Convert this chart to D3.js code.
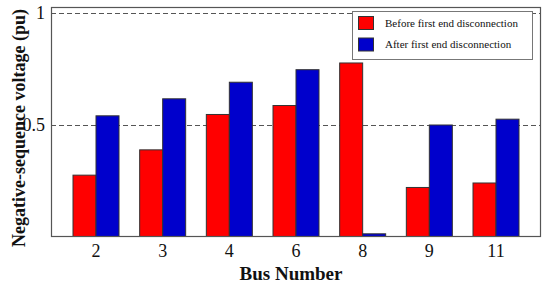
<!DOCTYPE html>
<html>
<head>
<meta charset="utf-8">
<script src="https://cdn.jsdelivr.net/npm/d3@7"></script>
<style>
  html, body { margin: 0; padding: 0; background: #fff; }
  svg { display: block; }
  svg text { font-family: "Liberation Serif", "Times New Roman", serif !important; }
</style>
</head>
<body>
<div id="chart"></div>
<script>
const categories = ["2", "3", "4", "6", "8", "9", "11"];
const seriesNames = ["Before first end disconnection", "After first end disconnection"];
const beforeValues = [0.274, 0.387, 0.545, 0.585, 0.775, 0.219, 0.239];
const afterValues  = [0.539, 0.615, 0.689, 0.745, 0.012, 0.498, 0.524];
const yTicks = [0.5, 1];
const yTickLabels = ["0.5", "1"];
const colors = ["#ff0000", "#0000cc"];

const W = 550, H = 287;
const margin = { left: 51, right: 9, top: 7, bottom: 51 };
const svg = d3.select("#chart").append("svg").attr("width", W).attr("height", H);

const x = d3.scaleBand().domain(categories)
  .range([margin.left, W - margin.right])
  .paddingInner(0.31).paddingOuter(0.33);
const xs = d3.scaleBand().domain([0, 1]).range([0, x.bandwidth()]);
const y = d3.scaleLinear().domain([0, 1.025]).range([H - margin.bottom + 0.5, margin.top]);

// gridlines (dashed)
svg.append("g").selectAll("line").data(yTicks).join("line")
  .attr("x1", margin.left).attr("x2", W - margin.right)
  .attr("y1", d => Math.round(y(d)) + 0.5).attr("y2", d => Math.round(y(d)) + 0.5)
  .attr("stroke", "#555").attr("stroke-width", 1).attr("stroke-dasharray", "5,3");

// bars
const series = [beforeValues, afterValues];
series.forEach((vals, si) => {
  svg.append("g").selectAll("rect").data(vals).join("rect")
    .attr("x", (d, i) => x(categories[i]) + xs(si))
    .attr("width", xs.bandwidth())
    .attr("y", d => y(d))
    .attr("height", d => y(0) - y(d))
    .attr("fill", colors[si])
    .attr("stroke", "#333").attr("stroke-width", 1);
});

// frame
svg.append("rect")
  .attr("x", margin.left + 0.5).attr("y", margin.top + 0.5)
  .attr("width", W - margin.right - margin.left - 1)
  .attr("height", H - margin.bottom - margin.top)
  .attr("fill", "none").attr("stroke", "#555").attr("stroke-width", 1.2);

// x axis
const xAxis = d3.axisBottom(x).tickSize(0).tickPadding(8);
const gx = svg.append("g").attr("transform", `translate(0,${H - margin.bottom})`).call(xAxis)
  .attr("font-family", null);
gx.select(".domain").remove();
gx.selectAll("text").attr("font-size", 18).attr("fill", "#111");

// y axis
const yAxis = d3.axisLeft(y).tickValues(yTicks).tickFormat((d, i) => yTickLabels[i]).tickSize(0).tickPadding(6);
const gy = svg.append("g").attr("transform", `translate(${margin.left},0)`).call(yAxis)
  .attr("font-family", null);
gy.select(".domain").remove();
gy.selectAll("text").attr("font-size", 18).attr("fill", "#111");

// axis titles
svg.append("text")
  .attr("x", (margin.left + W - margin.right) / 2 - 5).attr("y", 280)
  .attr("text-anchor", "middle").attr("font-weight", "bold").attr("font-size", 19)
  .attr("fill", "#111")
  .text("Bus Number");
svg.append("text")
  .attr("transform", "translate(25,128) rotate(-90)")
  .attr("text-anchor", "middle").attr("font-weight", "bold").attr("font-size", 18)
  .attr("fill", "#111")
  .text("Negative-sequence voltage (pu)");

// legend
const lg = svg.append("g");
lg.append("rect").attr("x", 352.5).attr("y", 11.5).attr("width", 180).attr("height", 48)
  .attr("fill", "#fff").attr("stroke", "#777").attr("stroke-width", 1);
seriesNames.forEach((name, i) => {
  lg.append("rect").attr("x", 358.5).attr("y", 16.5 + i * 21.5).attr("width", 15).attr("height", 13)
    .attr("fill", colors[i]).attr("stroke", "#333").attr("stroke-width", 1);
  lg.append("text").attr("x", 385).attr("y", 23 + i * 21.5).attr("dy", "0.35em")
    .attr("font-size", 11).attr("fill", "#111").text(name);
});
</script>
</body>
</html>
